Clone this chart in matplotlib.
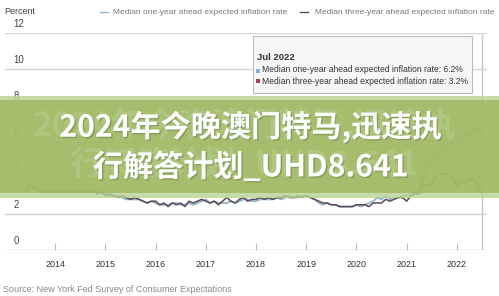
import numpy as np
import pandas as pd
import matplotlib
matplotlib.use("Agg")
import matplotlib.pyplot as plt
import matplotlib.patheffects as pe
from matplotlib.patches import Rectangle

plt.rcParams["font.family"] = ["Liberation Sans", "DejaVu Sans"]

# Median expected inflation, monthly Jun 2013 - Jul 2022 (percent)
one_year = [
    3.5, 3.7, 3.5, 3.3, 3.2, 3.3, 3.3,
    3.2, 3.2, 3.3, 3.3, 3.2, 3.3, 3.2, 3.3, 3.2, 3.2, 3.3, 3.2,
    3.1, 3.0, 3.0, 3.0, 2.9, 2.8, 2.8, 2.8, 2.8, 2.7, 2.6, 2.7,
    2.6, 2.5, 2.5, 2.5, 2.6, 2.6, 2.5, 2.5, 2.6, 2.5, 2.6, 2.7,
    2.8, 2.6, 2.7, 2.6, 2.6, 2.6, 2.7, 2.6, 2.7, 2.8, 2.8, 2.7,
    2.7, 2.8, 2.8, 2.8, 2.8, 2.9, 2.8, 2.9, 3.0, 2.9, 2.9, 3.0,
    3.0, 2.9, 2.8, 2.6, 2.5, 2.6, 2.5, 2.5, 2.4, 2.4, 2.4, 2.4,
    2.5, 2.4, 2.5, 2.6, 2.7, 2.9, 2.8, 3.0, 2.8, 2.9, 2.9, 3.0,
    3.0, 3.1, 3.2, 3.4, 4.0, 4.8, 4.8, 5.2, 5.3, 5.7, 5.7, 6.0,
    5.8, 6.0, 6.6, 6.3, 6.6, 6.8, 6.2,
]
three_year = [
    3.3, 3.5, 3.4, 3.3, 3.2, 3.3, 3.2,
    3.3, 3.2, 3.3, 3.2, 3.3, 3.2, 3.3, 3.2, 3.2, 3.3, 3.1, 3.2,
    3.0, 3.1, 3.0, 2.9, 3.0, 2.9, 2.8, 2.9, 2.8, 2.7, 2.6, 2.7,
    2.7, 2.5, 2.6, 2.4, 2.6, 2.5, 2.6, 2.4, 2.7, 2.6, 2.7, 2.8,
    2.7, 2.6, 2.7, 2.5, 2.7, 2.9, 2.7, 2.6, 2.8, 2.9, 2.7, 2.8,
    2.8, 2.9, 2.8, 2.9, 2.8, 2.9, 2.9, 3.0, 2.9, 2.9, 3.0, 2.9,
    3.0, 2.9, 2.8, 2.7, 2.6, 2.6, 2.5, 2.5, 2.4, 2.4, 2.4, 2.4,
    2.5, 2.5, 2.5, 2.4, 2.6, 2.6, 2.6, 2.8, 2.7, 2.8, 2.9, 2.9,
    2.7, 3.0, 3.1, 3.1, 3.6, 3.6, 3.7, 4.0, 4.2, 4.2, 4.2, 4.0,
    3.5, 3.8, 3.7, 3.9, 3.9, 3.6, 3.2,
]
months = pd.date_range("2013-06", "2022-07", freq="MS")
year_ticks = [2014, 2015, 2016, 2017, 2018, 2019, 2020, 2021, 2022]
y_ticks = [0, 2, 4, 6, 8, 10, 12]

t = months.year + (months.month - 1) / 12

W, H = 499, 296
fig = plt.figure(figsize=(W / 100, H / 100), dpi=100)
fig.patch.set_facecolor("white")

def fy(py):
    return 1 - py / H

ax = fig.add_axes([5 / W, fy(250), 482 / W, (250 - 33) / H])
ax.set_xlim(2013.0, 2022.6)
ax.set_ylim(0, 12)
for s in ax.spines.values():
    s.set_visible(False)
ax.set_yticks([])
ax.set_xticks(year_ticks)
ax.set_xticklabels([str(y) for y in year_ticks], fontsize=6.5, color="#333333")
ax.tick_params(axis="x", direction="in", length=5, width=0.8, color="#bbbbbb", pad=7)

for v in y_ticks:
    ax.axhline(v, color="#bbbbbb" if v == 0 else "#d6d6d6", lw=1.0, zorder=1)
    ax.annotate(str(v), xy=(0, v), xycoords=("axes fraction", "data"),
                xytext=(6, 3), textcoords="offset points", fontsize=7,
                color="#444444", va="bottom", ha="left")

ax.axvline(2022.5, ymax=0.99, color="#c8c8c8", lw=1.0, zorder=1)
ax.plot(t, one_year, color="#8fb3c9", lw=1.3, zorder=3)
ax.plot(t, three_year, color="#5a4a55", lw=1.1, zorder=4)

# header
fig.text(4 / W, fy(12), "Percent", fontsize=6.5, color="#444444", va="center")
fig.add_artist(plt.Line2D([100 / W, 108 / W], [fy(12), fy(12)], color="#8fb3c9", lw=1))
fig.text(113 / W, fy(12), "Median one-year ahead expected inflation rate",
         fontsize=6.05, color="#777777", va="center")
fig.add_artist(plt.Line2D([300 / W, 308 / W], [fy(12), fy(12)], color="#5a4a55", lw=1))
fig.text(315 / W, fy(12), "Median three-year ahead expected inflation rate",
         fontsize=6.05, color="#777777", va="center")

# tooltip
fig.add_artist(Rectangle((253 / W, fy(93)), 219 / W, 57 / H, facecolor="#f6f6f6",
                         edgecolor="#bbbbbb", lw=0.8, transform=fig.transFigure))
fig.text(257 / W, fy(57), "Jul 2022", fontsize=6.8, fontweight="bold", color="#333333", va="center")
fig.add_artist(Rectangle((256 / W, fy(72.5)), 4 / W, 4 / H, facecolor="#7fb0cf",
                         lw=0, transform=fig.transFigure))
fig.text(262 / W, fy(70), "Median one-year ahead expected inflation rate: 6.2%",
         fontsize=6.15, color="#333333", va="center")
fig.add_artist(Rectangle((256 / W, fy(83.5)), 4 / W, 4 / H, facecolor="#a0404f",
                         lw=0, transform=fig.transFigure))
fig.text(262 / W, fy(81), "Median three-year ahead expected inflation rate: 3.2%",
         fontsize=6.15, color="#333333", va="center")

fig.text(3 / W, fy(289), "Source: New York Fed Survey of Consumer Expectations",
         fontsize=6.5, color="#888888", va="center")

# overlay banner
fig.add_artist(Rectangle((0, fy(198)), 1, 102 / H, facecolor="#b7d293", alpha=0.8,
                         lw=0, transform=fig.transFigure, zorder=10))
fig.add_artist(Rectangle((0, fy(193)), 1, 93 / H, facecolor="#9bb45a", alpha=0.75,
                         lw=0, transform=fig.transFigure, zorder=11))
cjk = ["Noto Sans CJK SC", "DejaVu Sans"]
line1 = "2024年今晚澳门特马,迅速执"
line2 = "行解答计划_UHD8.641"
for txt, py in [(line1, 127), (line2, 167)]:
    fig.text(0.49, fy(py - 2), txt, family=cjk, fontsize=24, fontweight="bold",
             color="#c6dba9", alpha=0.3, ha="center", va="center", zorder=12)
    fig.text(0.502, fy(py), txt, family=cjk, fontsize=21.7, fontweight="bold",
             color="white", ha="center", va="center", zorder=13,
             path_effects=[pe.withSimplePatchShadow(offset=(1, -1), shadow_rgbFace="#6b7d45", alpha=0.5)])

fig.savefig("out.png", dpi=100)
